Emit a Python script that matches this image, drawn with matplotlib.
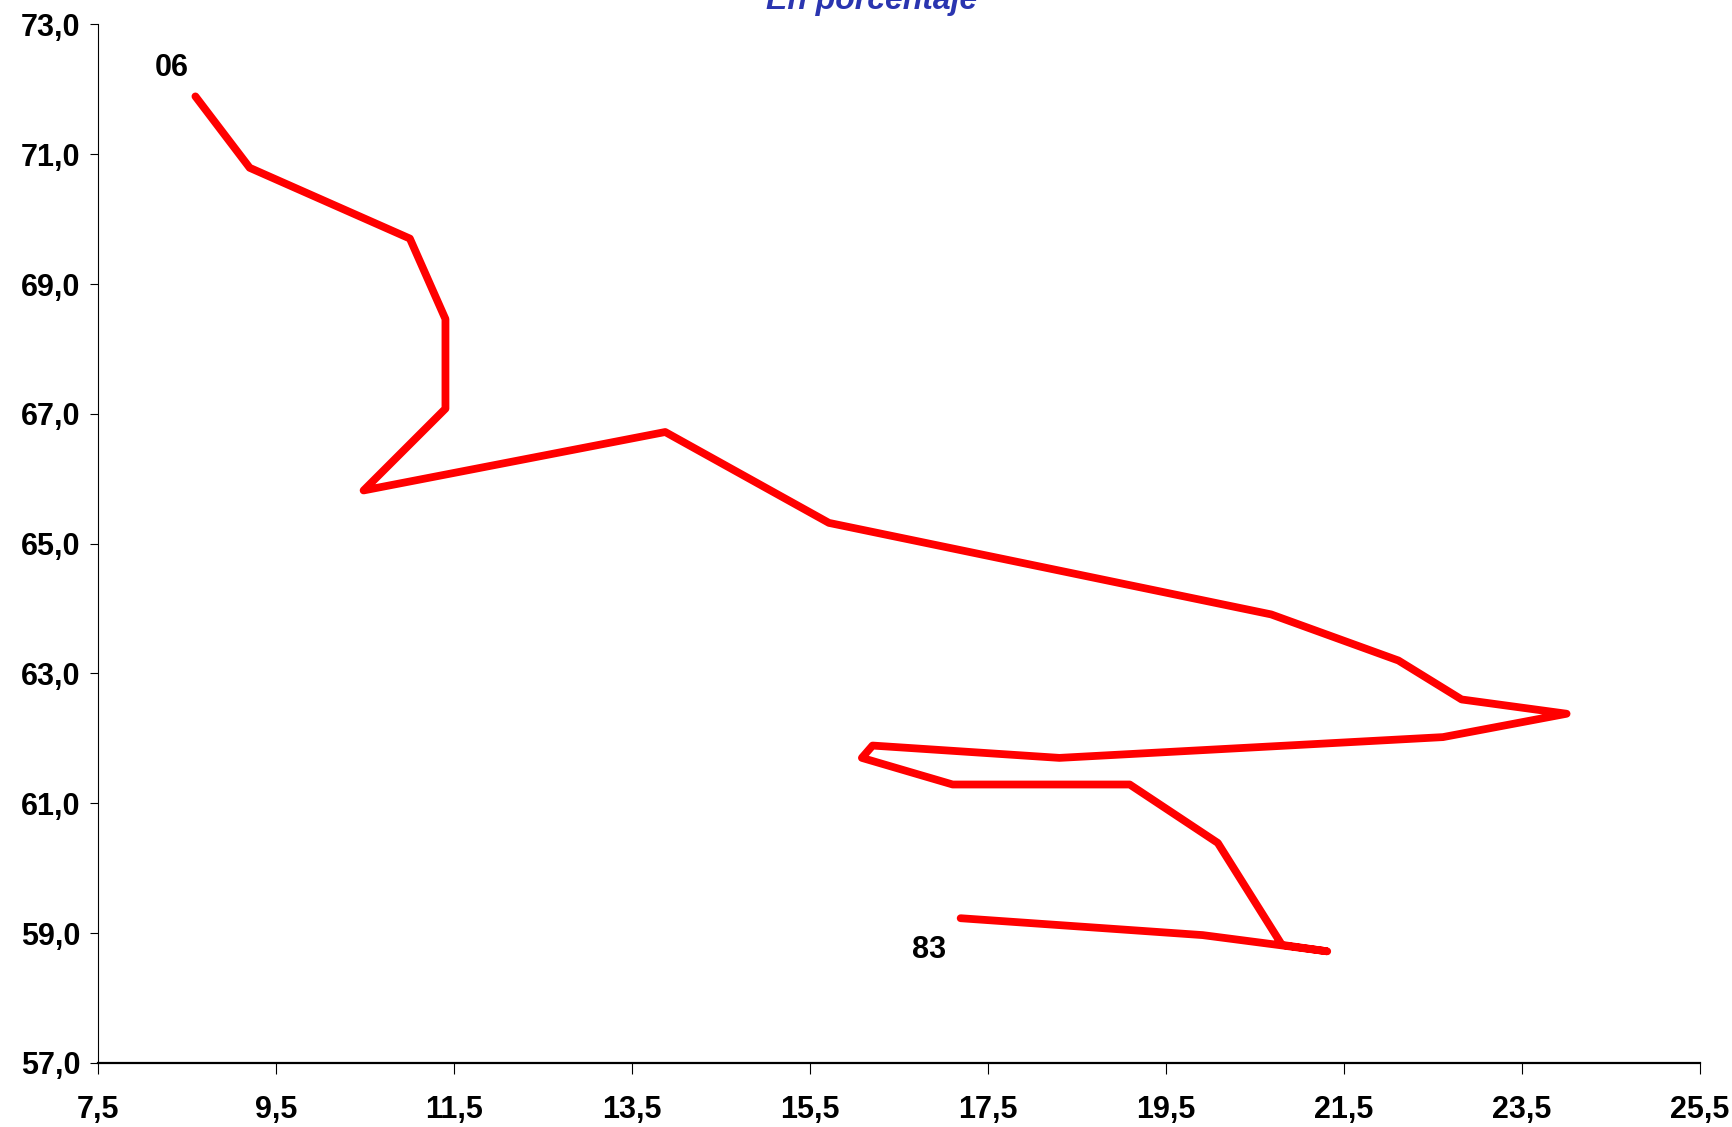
import matplotlib
matplotlib.use('Agg')
import matplotlib.pyplot as plt
from matplotlib.ticker import FixedLocator, FuncFormatter

# path from 1983 to 2006 (x = first series, y = second series), in %
xvalues = [17.19, 19.91, 21.31, 20.80, 20.08, 19.09, 17.10, 16.08, 16.20, 18.30,
           22.61, 24.00, 22.82, 22.11, 20.68, 15.71, 13.87, 10.48, 11.40, 11.40,
           11.00, 9.20, 8.59]
yvalues = [59.23, 58.97, 58.72, 58.82, 60.39, 61.29, 61.29, 61.70, 61.89, 61.70,
           62.02, 62.38, 62.60, 63.20, 63.91, 65.32, 66.72, 65.82, 67.08, 68.46,
           69.70, 70.79, 71.89]
point_labels = [('83', 16.84, 58.74), ('06', 8.32, 72.32)]
xticks = [7.5, 9.5, 11.5, 13.5, 15.5, 17.5, 19.5, 21.5, 23.5, 25.5]
yticks = [57.0, 59.0, 61.0, 63.0, 65.0, 67.0, 69.0, 71.0, 73.0]
title = 'En porcentaje'

plt.rcParams['font.family'] = ['Liberation Sans', 'DejaVu Sans']

fig = plt.figure(figsize=(17.33, 11.27), dpi=100)
ax = fig.add_axes([0.0568, 0.0568, 0.9242, 0.9216])

ax.plot(xvalues, yvalues, color='#ff0000', linewidth=5.6,
        solid_capstyle='round', solid_joinstyle='round')

for txt, x, y in point_labels:
    ax.text(x, y, txt, fontsize=22, fontweight='bold', ha='center', va='center')

ax.set_xlim(7.5, 25.5)
ax.set_ylim(57.0, 73.0)
ax.xaxis.set_major_locator(FixedLocator(xticks))
ax.yaxis.set_major_locator(FixedLocator(yticks))
comma = FuncFormatter(lambda v, p: f'{v:.1f}'.replace('.', ','))
ax.xaxis.set_major_formatter(comma)
ax.yaxis.set_major_formatter(comma)

for side in ['top', 'right']:
    ax.spines[side].set_visible(False)
ax.spines['left'].set_linewidth(0.8)
ax.spines['bottom'].set_linewidth(1.6)

ax.tick_params(axis='x', direction='out', length=8, width=0.8, pad=15,
               labelsize=22)
ax.tick_params(axis='y', direction='out', length=6, width=0.8, pad=7,
               labelsize=22)
for lab in ax.get_xticklabels() + ax.get_yticklabels():
    lab.set_fontweight('bold')

fig.text(0.503, 0.999, title, fontsize=23, fontweight='bold', style='italic',
         color='#2a35b0', ha='center', va='center')

fig.savefig('out.png', dpi=100)
